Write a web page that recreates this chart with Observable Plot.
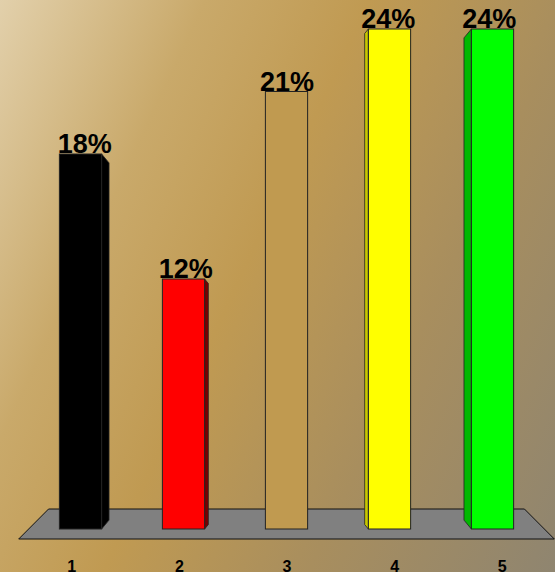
<!DOCTYPE html>
<html>
<head>
<meta charset="utf-8">
<script src="https://cdn.jsdelivr.net/npm/d3@7"></script>
<script src="https://cdn.jsdelivr.net/npm/@observablehq/plot@0.6"></script>
<style>
  html, body { margin: 0; padding: 0; }
  #chart {
    width: 555px; height: 572px; overflow: hidden;
    background: linear-gradient(115deg, #e2d0ab 0%, #c9a96a 25%, #c09a52 45%, #a88e5e 70%, #8f8570 100%);
    font-family: Arial, "Liberation Sans", sans-serif;
  }
  #chart svg { display: block; }
</style>
</head>
<body>
<div id="chart"></div>
<script>
const categories = [1, 2, 3, 4, 5];
const values = [18, 12, 21, 24, 24];
const valueLabels = ["18%", "12%", "21%", "24%", "24%"];
const tickLabels = ["1", "2", "3", "4", "5"];
const barColors = ["#000000", "#ff0000", "#c09a50", "#ffff00", "#00ff00"];
const sideColors = ["#000000", "#7a0000", "#c09a50", "#c8c800", "#00b800"];

const data = categories.map((c, i) => ({
  c, v: values[i], label: valueLabels[i], tick: tickLabels[i],
  color: barColors[i], side: sideColors[i]
}));

const half = 0.205;      // half bar width in x units
const persp = 0.036;     // perspective factor for side faces
const mid = 3;           // category at the viewing centre

function floorMark(index, scales, values, dims) {
  const x = scales.x, y = scales.y;
  const cx = x(mid), y0 = y(0);
  const step = x(2) - x(1);
  const g = d3.create("svg:g");
  const top = y0 - 20, bot = y0 + 10;
  const pts = [
    [cx - 2.31 * step, top], [cx + 2.31 * step, top],
    [cx + 2.6 * step, bot], [cx - 2.6 * step, bot]
  ];
  g.append("polygon")
    .attr("points", pts.map(p => p.join(",")).join(" "))
    .attr("fill", "#808080").attr("stroke", "#111").attr("stroke-width", 1);
  return g.node();
}

function sideMark(index, scales, values, dims) {
  const x = scales.x, y = scales.y;
  const g = d3.create("svg:g");
  for (const d of data) {
    if (d.c === mid) continue;
    const xe = d.c < mid ? x(d.c + half) : x(d.c - half);
    const dpx = (x(mid) - x(d.c)) * persp;
    const a = Math.abs(dpx);
    const yt = y(d.v), yb = y(0);
    const pts = [[xe, yt], [xe + dpx, yt + 1.2 * a], [xe + dpx, yb - 1.2 * a], [xe, yb]];
    g.append("polygon")
      .attr("points", pts.map(p => p.join(",")).join(" "))
      .attr("fill", d.side).attr("stroke", "#222").attr("stroke-width", 0.8);
  }
  return g.node();
}

const plot = Plot.plot({
  width: 555,
  height: 572,
  marginLeft: 29,
  marginRight: 11,
  marginTop: 29,
  marginBottom: 43,
  style: { background: "transparent", overflow: "visible", fontFamily: "Arial, 'Liberation Sans', sans-serif" },
  x: { domain: [0.5, 5.5], axis: null },
  y: { domain: [0, 24], axis: null },
  color: { type: "identity" },
  marks: [
    floorMark,
    sideMark,
    Plot.rect(data, {
      x1: d => d.c - half, x2: d => d.c + half,
      y1: 0, y2: "v",
      fill: "color", stroke: "#222", strokeWidth: 1
    }),
    Plot.text(data, {
      x: d => d.c + (mid - d.c) * persp / 2,
      y: "v", text: "label",
      fontSize: 27, fontWeight: "bold", fill: "#000",
      dy: -10
    }),
    Plot.text(data, {
      x: d => mid + (d.c - mid) * 1.045,
      y: 0, text: "tick",
      fontSize: 16, fontWeight: "bold", fill: "#000",
      dy: 37
    })
  ]
});

document.getElementById("chart").appendChild(plot);
</script>
</body>
</html>
